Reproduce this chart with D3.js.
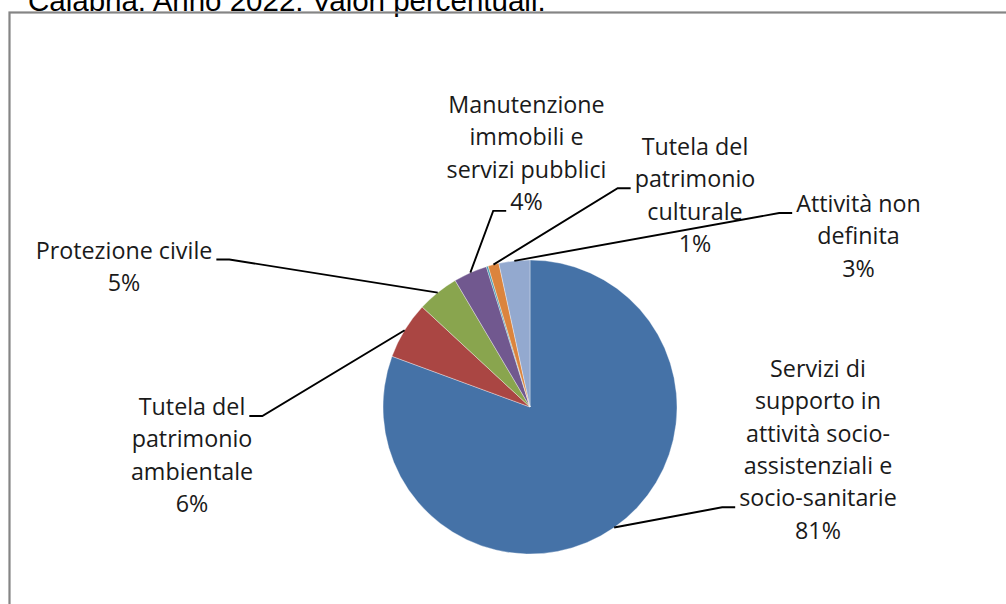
<!DOCTYPE html>
<html>
<head>
<meta charset="utf-8">
<script src="https://cdn.jsdelivr.net/npm/d3@7"></script>
<style>
  body { margin: 0; background: #fff; }
  svg { display: block; }
</style>
</head>
<body>
<div id="chart"></div>
<script>
// Data (clockwise from 12 o'clock)
var categories = [
  "Servizi di supporto in attività socio-assistenziali e socio-sanitarie",
  "Tutela del patrimonio ambientale",
  "Protezione civile",
  "Manutenzione immobili e servizi pubblici",
  "Altro",
  "Tutela del patrimonio culturale",
  "Attività non definita"
];
var values = [80.6, 6.3, 4.6, 3.7, 0.2, 1.2, 3.4];
var labelLines = [
  ["Servizi di", "supporto in", "attività socio-", "assistenziali e", "socio-sanitarie"],
  ["Tutela del", "patrimonio", "ambientale"],
  ["Protezione civile"],
  ["Manutenzione", "immobili e", "servizi pubblici"],
  null,
  ["Tutela del", "patrimonio", "culturale"],
  ["Attività non", "definita"]
];
var title = "Calabria. Anno 2022. Valori percentuali.";

// Styles / layout
var colors = ["#4572A7", "#AA4643", "#89A54E", "#71588F", "#4198AF", "#DB843D", "#93A9CF"];
// label block: centre x and first baseline relative to pie centre, which line gets the leader, and on which side
var labelLayout = [
  {dx: 288, dy: -30, line: 4, side: "left"},
  {dx: -338, dy: 8, line: 0, side: "right"},
  {dx: -406, dy: -148.5, line: 0, side: "right"},
  {dx: -3.5, dy: -294, line: 3, side: "left"},
  null,
  {dx: 165, dy: -252, line: 1, side: "left"},
  {dx: 328.5, dy: -195, line: 0, side: "left"}
];

var width = 1006, height = 604;
var cx = 530, cy = 407, radius = 147;
var lineH = 32.3;

var svg = d3.select("#chart")
  .append("svg")
  .attr("width", width)
  .attr("height", height);

// Title (cut off at the top, as in the source)
svg.append("text")
  .attr("x", 28)
  .attr("y", 10.5)
  .style("font-family", "'Liberation Sans', Arial, sans-serif")
  .style("font-size", "29.5px")
  .style("fill", "#000")
  .text(title);

// Chart frame
svg.append("rect")
  .attr("x", 9.5)
  .attr("y", 12.5)
  .attr("width", 1010)
  .attr("height", 620)
  .style("fill", "none")
  .style("stroke", "#858585")
  .style("stroke-width", 2.2);

var total = d3.sum(values);
var data = categories.map(function(c, i) {
  return {name: c, value: values[i], lines: labelLines[i], layout: labelLayout[i], color: colors[i]};
});

var pie = d3.pie()
  .sort(null)
  .value(function(d) { return d.value; });

var arc = d3.arc().innerRadius(0).outerRadius(radius);
var rimArc = d3.arc().innerRadius(radius).outerRadius(radius);

var g = svg.append("g")
  .attr("transform", "translate(" + cx + "," + cy + ")");

var arcs = pie(data);

g.selectAll("path.slice")
  .data(arcs)
  .enter().append("path")
  .attr("class", "slice")
  .attr("d", arc)
  .style("fill", function(d) { return d.data.color; })
  .style("stroke", "#ffffff")
  .style("stroke-width", 0.5)
  .style("stroke-opacity", 0.7);

// Labels + leader lines
var labelled = arcs.filter(function(d) { return d.data.lines; });

labelled.forEach(function(d) {
  var lay = d.data.layout;
  var lines = d.data.lines.concat([Math.round(d.data.value / total * 100) + "%"]);
  var lg = g.append("g").attr("class", "label");

  var texts = lines.map(function(t, k) {
    return lg.append("text")
      .attr("x", lay.dx)
      .attr("y", lay.dy + k * lineH)
      .attr("text-anchor", "middle")
      .style("font-family", "'Open Sans', 'Noto Sans', sans-serif")
      .style("font-size", "23.3px")
      .style("fill", "#1a1a1a")
      .text(t);
  });

  var target = texts[lay.line];
  var w = target.node().getComputedTextLength();
  var by = lay.dy + lay.line * lineH + 1;
  var x1, x2;
  if (lay.side === "left") {
    x1 = lay.dx - w / 2 - 4;
    x2 = x1 - 13;
  } else {
    x1 = lay.dx + w / 2 + 4;
    x2 = x1 + 13;
  }
  var end = rimArc.centroid(d);

  g.append("path")
    .attr("d", d3.line()([[x1, by], [x2, by], end]))
    .style("fill", "none")
    .style("stroke", "#000")
    .style("stroke-width", 1.9);
});
</script>
</body>
</html>
